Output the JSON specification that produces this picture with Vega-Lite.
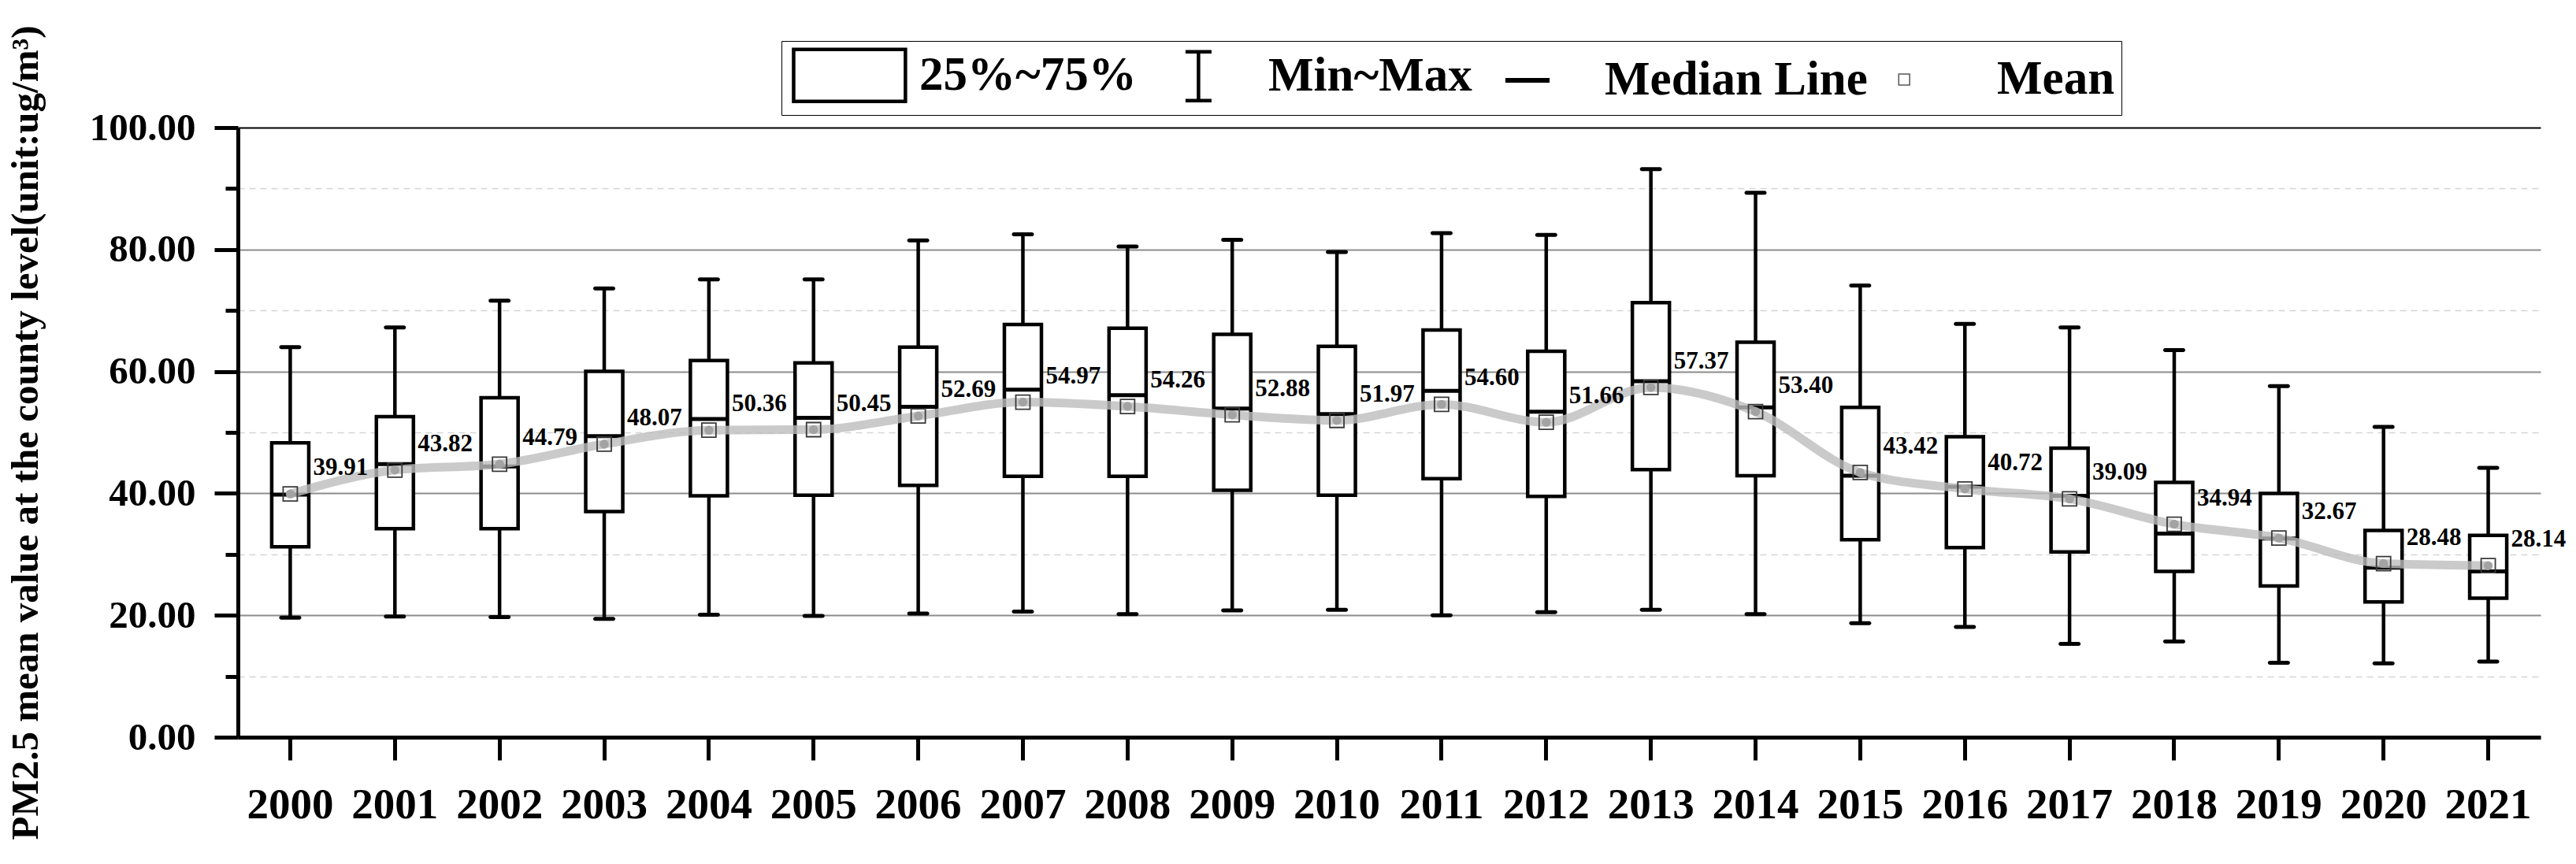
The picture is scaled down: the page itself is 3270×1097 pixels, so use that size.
{
  "$schema": "https://vega.github.io/schema/vega-lite/v6.json",
  "width": 2923,
  "height": 774,
  "autosize": {"type": "none"},
  "padding": {"left": 302, "top": 162, "right": 45, "bottom": 161},
  "background": "white",
  "config": {"view": {"stroke": null}, "font": "Liberation Serif"},
  "datasets": {
    "box": [
      {"year": "2000", "min": 19.6, "q1": 31.25, "median": 39.8, "q3": 48.3, "max": 64.0, "mean": 39.91},
      {"year": "2001", "min": 19.8, "q1": 34.2, "median": 44.8, "q3": 52.6, "max": 67.2, "mean": 43.82},
      {"year": "2002", "min": 19.7, "q1": 34.2, "median": 44.4, "q3": 55.7, "max": 71.6, "mean": 44.79},
      {"year": "2003", "min": 19.4, "q1": 37.0, "median": 49.4, "q3": 60.0, "max": 73.6, "mean": 48.07},
      {"year": "2004", "min": 20.1, "q1": 39.6, "median": 52.2, "q3": 61.8, "max": 75.1, "mean": 50.36},
      {"year": "2005", "min": 19.9, "q1": 39.7, "median": 52.4, "q3": 61.4, "max": 75.1, "mean": 50.45},
      {"year": "2006", "min": 20.3, "q1": 41.3, "median": 54.2, "q3": 64.0, "max": 81.5, "mean": 52.69},
      {"year": "2007", "min": 20.6, "q1": 42.8, "median": 57.0, "q3": 67.7, "max": 82.5, "mean": 54.97},
      {"year": "2008", "min": 20.2, "q1": 42.8, "median": 56.1, "q3": 67.1, "max": 80.5, "mean": 54.26},
      {"year": "2009", "min": 20.8, "q1": 40.5, "median": 53.9, "q3": 66.1, "max": 81.6, "mean": 52.88},
      {"year": "2010", "min": 20.9, "q1": 39.7, "median": 53.0, "q3": 64.1, "max": 79.6, "mean": 51.97},
      {"year": "2011", "min": 20.0, "q1": 42.4, "median": 56.8, "q3": 66.8, "max": 82.7, "mean": 54.60},
      {"year": "2012", "min": 20.5, "q1": 39.5, "median": 53.4, "q3": 63.3, "max": 82.4, "mean": 51.66},
      {"year": "2013", "min": 20.9, "q1": 43.9, "median": 58.4, "q3": 71.3, "max": 93.2, "mean": 57.37},
      {"year": "2014", "min": 20.2, "q1": 42.9, "median": 54.1, "q3": 64.8, "max": 89.3, "mean": 53.40},
      {"year": "2015", "min": 18.7, "q1": 32.4, "median": 42.9, "q3": 54.1, "max": 74.1, "mean": 43.42},
      {"year": "2016", "min": 18.1, "q1": 31.1, "median": 41.1, "q3": 49.3, "max": 67.8, "mean": 40.72},
      {"year": "2017", "min": 15.3, "q1": 30.4, "median": 39.6, "q3": 47.4, "max": 67.2, "mean": 39.09},
      {"year": "2018", "min": 15.7, "q1": 27.2, "median": 33.4, "q3": 41.8, "max": 63.5, "mean": 34.94},
      {"year": "2019", "min": 12.2, "q1": 24.8, "median": 32.6, "q3": 40.0, "max": 57.6, "mean": 32.67},
      {"year": "2020", "min": 12.1, "q1": 22.2, "median": 27.8, "q3": 33.9, "max": 50.9, "mean": 28.48},
      {"year": "2021", "min": 12.4, "q1": 22.8, "median": 27.2, "q3": 33.1, "max": 44.2, "mean": 28.14}
    ],
    "legend": [
      {"item": "25%~75%"},
      {"item": "Min~Max"},
      {"item": "Median Line"},
      {"item": "Mean"}
    ]
  },
  "layer": [
    {
      "data": {"name": "box"},
      "encoding": {
        "x": {
          "field": "year", "type": "ordinal",
          "scale": {"type": "band", "paddingInner": 0.646, "paddingOuter": 0.323},
          "axis": {
            "title": null, "labelAngle": 0, "labelFont": "Liberation Serif", "labelFontSize": 55,
            "labelFontWeight": "bold", "labelColor": "black", "labelPadding": 30, "labelOverlap": false,
            "tickSize": 29, "tickWidth": 5, "tickColor": "black",
            "domainColor": "black", "domainWidth": 5, "grid": false
          }
        }
      },
      "layer": [
        {
          "mark": {"type": "rule", "stroke": "black", "strokeWidth": 4.5},
          "encoding": {
            "y": {
              "field": "min", "type": "quantitative",
              "scale": {"domain": [0, 100], "nice": false, "zero": true},
              "axis": {
                "values": [0, 10, 20, 30, 40, 50, 60, 70, 80, 90, 100],
                "labelExpr": "datum.value % 20 === 0 ? format(datum.value, '.2f') : ''",
                "labelFont": "Liberation Serif", "labelFontSize": 49, "labelFontWeight": "bold",
                "labelColor": "black", "labelPadding": 24,
                "tickColor": "black", "tickWidth": 5,
                "tickSize": {"condition": {"test": "datum.value % 20 === 0", "value": 30}, "value": 16},
                "domainColor": "black", "domainWidth": 5,
                "grid": true,
                "gridColor": {"condition": [{"test": "datum.value === 100", "value": "black"}, {"test": "datum.value % 20 === 0", "value": "#8c8c8c"}], "value": "#d4d4d4"},
                "gridDash": {"condition": {"test": "datum.value % 20 !== 0", "value": [8, 6]}, "value": []},
                "gridWidth": {"condition": {"test": "datum.value % 20 === 0", "value": 2}, "value": 1.5},
                "title": "PM2.5 mean value at the county level(unit:ug/m³)",
                "titleFont": "Liberation Serif", "titleFontSize": 49, "titleFontWeight": "bold",
                "titleColor": "black", "titlePadding": 56
              }
            },
            "y2": {"field": "max"}
          }
        },
        {
          "mark": {"type": "tick", "color": "black", "size": 28, "thickness": 5, "cornerRadius": 2.5, "opacity": 1},
          "encoding": {"y": {"field": "min", "type": "quantitative"}}
        },
        {
          "mark": {"type": "tick", "color": "black", "size": 28, "thickness": 5, "cornerRadius": 2.5, "opacity": 1},
          "encoding": {"y": {"field": "max", "type": "quantitative"}}
        },
        {
          "mark": {"type": "bar", "fill": "white", "stroke": "black", "strokeWidth": 4.5},
          "encoding": {
            "y": {"field": "q1", "type": "quantitative"},
            "y2": {"field": "q3"}
          }
        },
        {
          "mark": {"type": "tick", "color": "black", "size": 47, "thickness": 5, "opacity": 1},
          "encoding": {"y": {"field": "median", "type": "quantitative"}}
        },
        {
          "mark": {"type": "line", "stroke": "#bdbdbd", "strokeWidth": 11, "opacity": 0.8, "interpolate": "monotone"},
          "encoding": {"y": {"field": "mean", "type": "quantitative"}}
        },
        {
          "mark": {"type": "point", "shape": "square", "size": 324, "filled": false, "stroke": "#3a3a3a", "strokeWidth": 1.8, "opacity": 1},
          "encoding": {"y": {"field": "mean", "type": "quantitative"}}
        },
        {
          "mark": {"type": "point", "shape": "circle", "size": 130, "filled": true, "color": "#a3a3a3", "opacity": 1},
          "encoding": {"y": {"field": "mean", "type": "quantitative"}}
        },
        {
          "mark": {"type": "text", "align": "left", "baseline": "middle", "dx": 29, "dy": -33,
                   "font": "Liberation Serif", "fontSize": 31, "fontWeight": "bold", "color": "black"},
          "encoding": {
            "y": {"field": "mean", "type": "quantitative"},
            "text": {"field": "mean", "type": "quantitative", "format": ".2f"}
          }
        }
      ]
    },
    {
      "data": {"name": "legend"},
      "mark": {"type": "point", "filled": false, "opacity": 0},
      "encoding": {
        "shape": {
          "field": "item", "type": "nominal",
          "scale": {
            "domain": ["25%~75%", "Min~Max", "Median Line", "Mean"],
            "range": [
              "M-0.85,-1H3.45V1H-0.85Z",
              "M0.8,-0.94H1.8M1.3,-0.94V0.94M0.8,0.94H1.8",
              "M0.18,0H1.88",
              "M0.16,-0.21H0.58V0.21H0.16Z"
            ]
          },
          "legend": {
            "orient": "none", "legendX": 690, "legendY": -110, "direction": "horizontal", "title": null,
            "labelFont": "Liberation Serif", "labelFontSize": 61, "labelFontWeight": "bold", "labelColor": "black",
            "labelLimit": 0, "symbolSize": 4356, "labelOffset": 96, "columnPadding": -3, "padding": 8,
            "strokeColor": "black", "symbolFillColor": "transparent", "symbolOpacity": 1,
            "encode": {
              "symbols": {"opacity": {"value": 1}, "fill": {"value": "transparent"}, "strokeCap": {"value": "round"}},
              "legend": {"strokeWidth": {"value": 2}}
            }
          }
        },
        "stroke": {
          "field": "item", "type": "nominal",
          "scale": {"domain": ["25%~75%", "Min~Max", "Median Line", "Mean"], "range": ["black", "black", "black", "#555555"]}
        },
        "strokeWidth": {
          "field": "item", "type": "ordinal",
          "scale": {"type": "ordinal", "domain": ["25%~75%", "Min~Max", "Median Line", "Mean"], "range": [4.5, 4.5, 6, 1.5]}
        }
      }
    }
  ]
}
